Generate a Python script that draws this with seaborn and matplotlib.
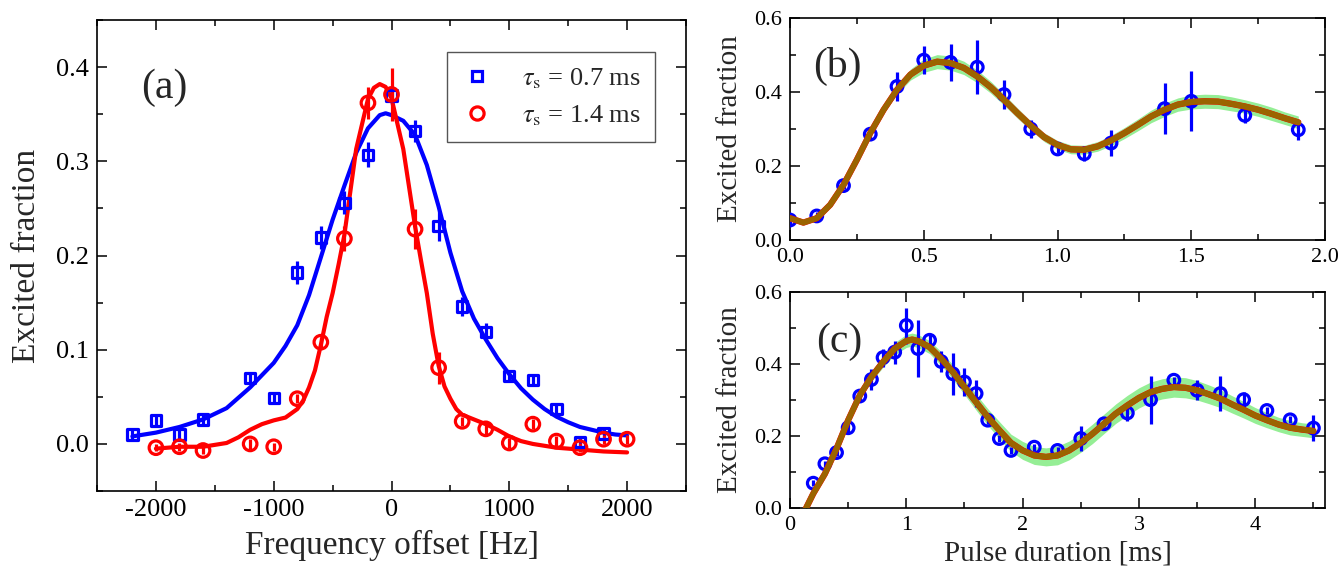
import numpy as np
import pandas as pd
import seaborn as sns
import matplotlib.pyplot as plt
from matplotlib.lines import Line2D
from matplotlib.ticker import MultipleLocator

# ---------------- panel (a): line scans for two dark times
freq_07 = [-2200, -2000, -1800, -1600, -1200, -1000, -800, -600, -400, -200, 0,
           200, 400, 600, 800, 1000, 1200, 1400, 1600, 1800]
exc_07 = [0.010, 0.025, 0.010, 0.026, 0.070, 0.049, 0.182, 0.219, 0.256, 0.307, 0.370,
          0.332, 0.231, 0.146, 0.119, 0.072, 0.068, 0.037, 0.002, 0.011]
err_07 = [0.005, 0.005, 0.006, 0.005, 0.006, 0.006, 0.012, 0.012, 0.012, 0.013, 0.010,
          0.012, 0.016, 0.010, 0.009, 0.006, 0.006, 0.006, 0.005, 0.006]

freq_14 = [-2000, -1800, -1600, -1200, -1000, -800, -600, -400, -200, 0,
           200, 400, 600, 800, 1000, 1200, 1400, 1600, 1800, 2000]
exc_14 = [-0.004, -0.003, -0.007, 0.000, -0.003, 0.048, 0.108, 0.218, 0.362, 0.371,
          0.228, 0.081, 0.024, 0.016, 0.001, 0.021, 0.003, -0.004, 0.005, 0.005]
err_14 = [0.004, 0.004, 0.004, 0.005, 0.004, 0.005, 0.006, 0.013, 0.017, 0.028,
          0.021, 0.017, 0.005, 0.005, 0.005, 0.005, 0.005, 0.005, 0.005, 0.005]

# fitted curves
fit07_f = [-2200, -2000, -1800, -1600, -1400, -1200, -1000, -900, -800, -700, -600, -500,
           -400, -300, -200, -100, -50, 0, 100, 200, 300, 400, 500, 600, 700, 800,
           900, 1000, 1100, 1200, 1300, 1400, 1500, 1600, 1700, 1800, 1900, 2000]
fit07_v = [0.008, 0.012, 0.018, 0.026, 0.038, 0.060, 0.086, 0.104, 0.126, 0.158, 0.198, 0.238,
           0.274, 0.309, 0.335, 0.349, 0.351, 0.349, 0.343, 0.328, 0.296, 0.252, 0.203, 0.162,
           0.133, 0.111, 0.091, 0.074, 0.059, 0.047, 0.037, 0.029, 0.023, 0.018, 0.015, 0.012,
           0.010, 0.009]

fit14_f = [-2000, -1800, -1600, -1400, -1300, -1200, -1100, -1000, -900, -800, -750, -700,
           -650, -600, -550, -500, -450, -400, -300, -200, -150, -100, -50, 0, 100, 200, 250,
           300, 350, 400, 450, 500, 550, 600, 700, 800, 900, 1000, 1100, 1200, 1300,
           1400, 1600, 1800, 2000]
fit14_v = [-0.005, -0.003, -0.003, 0.001, 0.007, 0.015, 0.021, 0.025, 0.028, 0.037, 0.046, 0.060,
           0.078, 0.105, 0.135, 0.160, 0.190, 0.222, 0.313, 0.366, 0.378, 0.382, 0.379, 0.367, 0.313,
           0.231, 0.195, 0.160, 0.117, 0.083, 0.061, 0.048, 0.037, 0.031, 0.026, 0.021, 0.015,
           0.008, 0.003, 0.000, -0.002, -0.004, -0.006, -0.008, -0.009]

# ---------------- panel (b): Rabi flops, short scan
t_b = [0.0, 0.1, 0.2, 0.3, 0.4, 0.5, 0.6, 0.7, 0.8, 0.9, 1.0, 1.1, 1.2, 1.4, 1.5, 1.7, 1.9]
exc_b = [0.054, 0.065, 0.147, 0.286, 0.415, 0.486, 0.480, 0.467, 0.393, 0.300, 0.246,
         0.233, 0.262, 0.355, 0.375, 0.337, 0.298]
err_b = [0.010, 0.010, 0.010, 0.012, 0.040, 0.038, 0.049, 0.073, 0.040, 0.025, 0.010,
         0.020, 0.034, 0.068, 0.081, 0.020, 0.027]

fitb_t = [0.0, 0.05, 0.1, 0.15, 0.2, 0.25, 0.3, 0.35, 0.4, 0.45, 0.5, 0.55, 0.6, 0.65, 0.7,
          0.75, 0.8, 0.85, 0.9, 0.95, 1.0, 1.05, 1.1, 1.15, 1.2, 1.25, 1.3, 1.35, 1.4, 1.45,
          1.5, 1.55, 1.6, 1.65, 1.7, 1.75, 1.8, 1.85, 1.9]
fitb_v = [0.059, 0.047, 0.059, 0.095, 0.149, 0.217, 0.289, 0.352, 0.406, 0.447, 0.471, 0.482,
          0.478, 0.465, 0.442, 0.413, 0.379, 0.343, 0.309, 0.278, 0.257, 0.245, 0.244, 0.253,
          0.269, 0.289, 0.311, 0.334, 0.352, 0.366, 0.373, 0.375, 0.374, 0.368, 0.361, 0.352,
          0.341, 0.329, 0.318]
fitb_w = [0.004, 0.004, 0.004, 0.004, 0.004, 0.005, 0.006, 0.009, 0.012, 0.015, 0.018, 0.019,
          0.019, 0.018, 0.017, 0.016, 0.015, 0.014, 0.013, 0.012, 0.012, 0.012, 0.012, 0.013,
          0.014, 0.015, 0.016, 0.017, 0.018, 0.018, 0.019, 0.019, 0.019, 0.019, 0.018, 0.018,
          0.018, 0.017, 0.017]

# ---------------- panel (c): Rabi flops, long scan
t_c = [0.2, 0.3, 0.4, 0.5, 0.6, 0.7, 0.8, 0.9, 1.0, 1.1, 1.2, 1.3, 1.4, 1.5, 1.6, 1.7, 1.8,
       1.9, 2.1, 2.3, 2.5, 2.7, 2.9, 3.1, 3.3, 3.5, 3.7, 3.9, 4.1, 4.3, 4.5]
exc_c = [0.069, 0.123, 0.154, 0.223, 0.311, 0.357, 0.418, 0.433, 0.507, 0.443, 0.466, 0.407,
         0.373, 0.350, 0.318, 0.244, 0.193, 0.160, 0.169, 0.160, 0.193, 0.234, 0.264, 0.301,
         0.355, 0.327, 0.318, 0.301, 0.271, 0.245, 0.222]
err_c = [0.008, 0.008, 0.010, 0.015, 0.012, 0.030, 0.025, 0.032, 0.050, 0.080, 0.016, 0.028,
         0.058, 0.040, 0.037, 0.010, 0.010, 0.010, 0.010, 0.010, 0.035, 0.010, 0.021, 0.067,
         0.010, 0.028, 0.049, 0.021, 0.010, 0.010, 0.037]

fitc_t = [0.12, 0.2, 0.3, 0.4, 0.5, 0.6, 0.7, 0.8, 0.9, 1.0, 1.05, 1.1, 1.2, 1.3, 1.4, 1.5,
          1.6, 1.7, 1.8, 1.9, 2.0, 2.1, 2.2, 2.3, 2.4, 2.5, 2.6, 2.7, 2.8, 2.9, 3.0, 3.1,
          3.2, 3.3, 3.4, 3.5, 3.6, 3.7, 3.8, 3.9, 4.0, 4.1, 4.2, 4.3, 4.4, 4.5]
fitc_v = [-0.012, 0.040, 0.095, 0.165, 0.244, 0.313, 0.364, 0.406, 0.443, 0.464, 0.468, 0.464,
          0.447, 0.415, 0.378, 0.336, 0.294, 0.253, 0.216, 0.181, 0.160, 0.146, 0.142, 0.146,
          0.160, 0.181, 0.206, 0.234, 0.262, 0.285, 0.306, 0.322, 0.331, 0.336, 0.334, 0.327,
          0.316, 0.304, 0.288, 0.273, 0.257, 0.244, 0.232, 0.223, 0.218, 0.214]
fitc_w = [0.004, 0.004, 0.004, 0.005, 0.006, 0.009, 0.012, 0.015, 0.017, 0.018, 0.018, 0.018,
          0.018, 0.019, 0.020, 0.021, 0.022, 0.023, 0.024, 0.024, 0.025, 0.025, 0.025, 0.026,
          0.026, 0.026, 0.027, 0.027, 0.027, 0.028, 0.028, 0.028, 0.028, 0.028, 0.028, 0.027,
          0.026, 0.025, 0.024, 0.023, 0.022, 0.021, 0.020, 0.020, 0.019, 0.019]

BLUE = "#0000ff"
RED = "#ff0000"
BROWN = "#9b6400"
GREEN = "#95ee95"

sns.set_theme(style="ticks")
plt.rcParams["font.family"] = ["Liberation Serif", "DejaVu Serif"]
plt.rcParams["mathtext.fontset"] = "stix"
plt.rcParams["axes.linewidth"] = 1.2

fig = plt.figure(figsize=(13.44, 5.8), dpi=100)
ax_a = fig.add_axes([0.0722, 0.1534, 0.4382, 0.8121])
ax_b = fig.add_axes([0.5878, 0.5862, 0.3981, 0.3828])
ax_c = fig.add_axes([0.5878, 0.1241, 0.3981, 0.3724])


def style_axis(ax, fs):
    for sp in ax.spines.values():
        sp.set_color("black")
        sp.set_linewidth(1.2)
    ax.tick_params(which="both", direction="in", top=True, right=True,
                   colors="black", labelsize=fs, width=1.1)
    ax.tick_params(which="major", length=7, pad=6)
    ax.tick_params(which="minor", length=4)


def points(ax, x, y, err, color, marker, size):
    ax.errorbar(x, y, yerr=err, fmt="none", ecolor=color, elinewidth=2.3, capsize=0, zorder=3)
    sns.scatterplot(x=x, y=y, ax=ax, marker=marker, s=size, color=color,
                    facecolor="none", edgecolor=color, linewidth=2.3, zorder=4)


# ---- (a)
sns.lineplot(x=fit07_f, y=fit07_v, ax=ax_a, color=BLUE, lw=3.0, sort=False, estimator=None, zorder=2)
sns.lineplot(x=fit14_f, y=fit14_v, ax=ax_a, color=RED, lw=3.0, sort=False, estimator=None, zorder=2)
points(ax_a, freq_07, exc_07, err_07, BLUE, "s", 55)
points(ax_a, freq_14, exc_14, err_14, RED, "o", 95)

ax_a.set_xlim(-2500, 2500)
ax_a.set_ylim(-0.05, 0.45)
ax_a.xaxis.set_major_locator(MultipleLocator(1000))
ax_a.xaxis.set_minor_locator(MultipleLocator(500))
ax_a.yaxis.set_major_locator(MultipleLocator(0.1))
ax_a.yaxis.set_minor_locator(MultipleLocator(0.05))
ax_a.set_xticks([-2000, -1000, 0, 1000, 2000])
ax_a.set_xticklabels(["-2000", "-1000", "0", "1000", "2000"])
ax_a.yaxis.set_major_formatter(plt.FuncFormatter(lambda v, p: f"{v:.1f}"))
style_axis(ax_a, 19)
ax_a.set_xlabel("Frequency offset [Hz]", fontsize=24, labelpad=6)
ax_a.set_ylabel("Excited fraction", fontsize=24, labelpad=10)
ax_a.text(0.075, 0.857, "(a)", transform=ax_a.transAxes, fontsize=30, va="center", ha="left")

handles = [
    Line2D([], [], ls="none", marker="s", ms=7.5, mfc="none", mec=BLUE, mew=2.3),
    Line2D([], [], ls="none", marker="o", ms=9.5, mfc="none", mec=RED, mew=2.3),
]
leg = ax_a.legend(handles, [r"$\tau_{\rm s}$ = 0.7 ms", r"$\tau_{\rm s}$ = 1.4 ms"],
                  loc="upper right", bbox_to_anchor=(0.948, 0.932), fontsize=19,
                  frameon=True, fancybox=False, framealpha=1, edgecolor="#555555",
                  handlelength=1.2, handletextpad=1.1, borderpad=0.55, labelspacing=0.45,
                  borderaxespad=0)
leg.get_frame().set_linewidth(1.0)

# ---- (b) and (c)
for ax, ft, fv, fw, tt, ee, er in [(ax_b, fitb_t, fitb_v, fitb_w, t_b, exc_b, err_b),
                                   (ax_c, fitc_t, fitc_v, fitc_w, t_c, exc_c, err_c)]:
    lo = np.array(fv) - np.array(fw)
    hi = np.array(fv) + np.array(fw)
    ax.fill_between(ft, lo, hi, color=GREEN, lw=0, zorder=1)
    points(ax, tt, ee, er, BLUE, "o", 70)
    sns.lineplot(x=ft, y=fv, ax=ax, color=RED, lw=4.5, sort=False, estimator=None, zorder=5)
    sns.lineplot(x=ft, y=fv, ax=ax, color=BROWN, lw=4.2, sort=False, estimator=None, zorder=6)
    ax.set_ylim(0, 0.6)
    ax.yaxis.set_major_locator(MultipleLocator(0.2))
    ax.yaxis.set_minor_locator(MultipleLocator(0.1))
    ax.yaxis.set_major_formatter(plt.FuncFormatter(lambda v, p: f"{v:.1f}"))
    style_axis(ax, 16)
    ax.set_ylabel("Excited fraction", fontsize=21, labelpad=8)

ax_b.set_xlim(0, 2.0)
ax_b.xaxis.set_major_locator(MultipleLocator(0.5))
ax_b.xaxis.set_minor_locator(MultipleLocator(0.25))
ax_b.xaxis.set_major_formatter(plt.FuncFormatter(lambda v, p: f"{v:.1f}"))
ax_b.set_xlabel("")
ax_b.text(0.043, 0.78, "(b)", transform=ax_b.transAxes, fontsize=30, va="center", ha="left")

ax_c.set_xlim(0, 4.6)
ax_c.xaxis.set_major_locator(MultipleLocator(1))
ax_c.xaxis.set_minor_locator(MultipleLocator(0.5))
ax_c.xaxis.set_major_formatter(plt.FuncFormatter(lambda v, p: f"{v:.0f}"))
ax_c.set_xlabel("Pulse duration [ms]", fontsize=21, labelpad=4)
ax_c.text(0.049, 0.768, "(c)", transform=ax_c.transAxes, fontsize=30, va="center", ha="left")

fig.savefig("out.png", dpi=100, facecolor="white")
